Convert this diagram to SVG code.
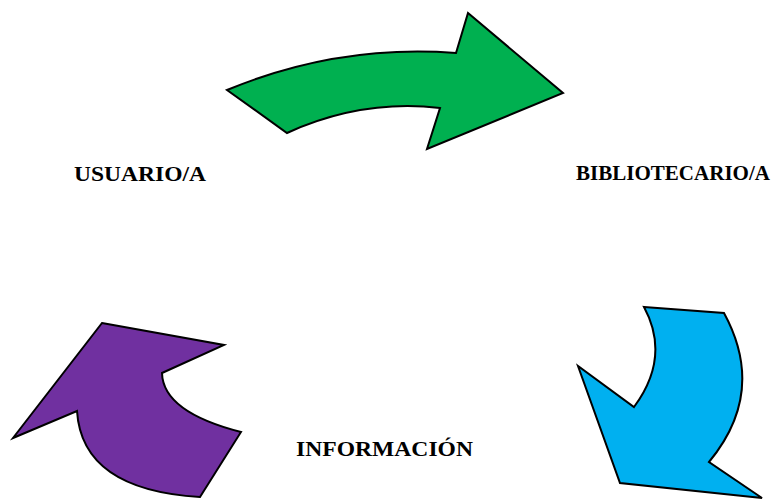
<svg xmlns="http://www.w3.org/2000/svg" width="773" height="499" viewBox="0 0 773 499">
<style>
.arrow{stroke:#000;stroke-width:2;stroke-linejoin:miter}
.lbl{font-family:"Liberation Serif","Times New Roman",serif;font-weight:bold;font-size:22px;fill:#000}
</style>
<rect width="773" height="499" fill="#fff"/>
<g id="connectors">
<path id="arrow-green" class="arrow" fill="#00B050" d="M227,90 Q338,44 456,53 L468,13 L563,93 L427,149 L440,108 Q362,99 287,133 Z"/>
<path id="arrow-blue" class="arrow" fill="#00B0F0" d="M644,307 L724,313 Q767,392 709,462 L762,498 L620,483 L578,366 L634,407 Q671,357 644,307 Z"/>
<path id="arrow-purple" class="arrow" fill="#7030A0" d="M102,323 L224,345 L162,373 Q163,412 241,432 L200,497 Q82,490 77,411 L13,438 Z"/>
</g>
<g id="usuario"><text class="lbl" x="74" y="181" textLength="132" lengthAdjust="spacingAndGlyphs">USUARIO/A</text></g>
<g id="bibliotecario"><text class="lbl" x="576" y="179.5" textLength="194" lengthAdjust="spacingAndGlyphs" style="font-size:21px">BIBLIOTECARIO/A</text></g>
<g id="informacion"><text class="lbl" x="296" y="456" textLength="177" lengthAdjust="spacingAndGlyphs">INFORMACIÓN</text></g>
</svg>
